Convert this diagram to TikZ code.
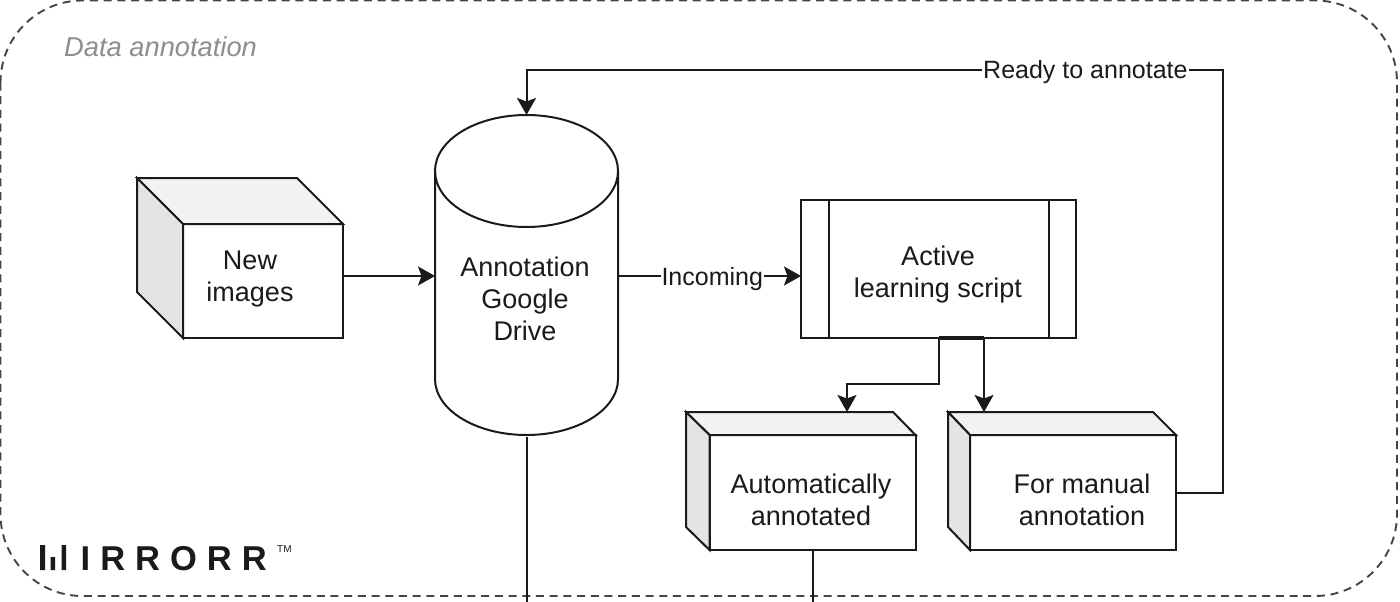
\documentclass[tikz,border=0pt]{standalone}
\usepackage{fontspec}
\setmainfont{Liberation Sans}
\usetikzlibrary{arrows.meta}
\definecolor{ink}{HTML}{1A1A1A}
\definecolor{sideface}{HTML}{E4E4E4}
\definecolor{topface}{HTML}{F1F3F3}
\definecolor{framegray}{HTML}{444444}
\definecolor{labelgray}{HTML}{8E8E8E}
\newfontfamily\logofont[LetterSpace=29]{Liberation Sans Bold}
\tikzset{
  x=1pt,y=-1pt,
  line/.style={draw=ink,line width=2pt,line join=miter},
  flow/.style={line,-{Stealth[length=17pt,width=19pt,inset=3.5pt]}},
  boxtext/.style={font=\fontsize{27}{32}\selectfont,text=ink,align=center,inner sep=0pt,outer sep=0pt},
  frontface/.style={line,fill=white,boxtext},
  edgelabel/.style={font=\fontsize{25}{30}\selectfont,text=ink,fill=white,inner sep=1pt},
}
\begin{document}
\begin{tikzpicture}
\useasboundingbox (0,0) rectangle (1400,602);
\fill[white] (0,0) rectangle (1400,602);
% frame
\draw[framegray,line width=1.9pt,dash pattern=on 8pt off 5.7pt,rounded corners=82pt]
  (0.5,0.5) rectangle (1397,596);
\node[font=\itshape\fontsize{27.3}{32}\selectfont,text=labelgray,anchor=base west,inner sep=0pt] (title) at (64,56.5) {Data annotation};

% new images
\node[frontface,minimum width=160pt,minimum height=114pt] (new) at (263,281) {};
\filldraw[line,fill=topface] (new.north west) -- (137,178) -- (297,178) -- (new.north east) -- cycle;
\filldraw[line,fill=sideface] (new.north west) -- (137,178) -- (137,292) -- (new.south west) -- cycle;
\node[boxtext] (newt) at (250,279) {New\\images};

% drive
\node[minimum width=183pt,minimum height=322pt,inner sep=0pt,outer sep=0pt] (drive) at (526.5,276) {};
\filldraw[line,fill=white] (435,171) -- (435,379) .. controls (435,410) and (476,435) .. (526.5,435)
  .. controls (577,435) and (618,410) .. (618,379) -- (618,171);
\draw[line] (435,171) .. controls (435,140) and (476,115) .. (526.5,115)
  .. controls (577,115) and (618,140) .. (618,171)
  .. controls (618,202) and (577,227) .. (526.5,227)
  .. controls (476,227) and (435,202) .. (435,171) -- cycle;
\node[boxtext] (drivet) at (525,299) {Annotation\\Google\\Drive};

% active script
\node[frontface,minimum width=275pt,minimum height=138pt] (active) at (938.5,269) {};
\draw[line] (829,200) -- (829,338) (1049,200) -- (1049,338);
\node[boxtext] (activet) at (938,275) {Active\\learning script};

% automatically annotated
\node[frontface,minimum width=206pt,minimum height=115pt] (auto) at (812.5,492.5) {};
\filldraw[line,fill=topface] (auto.north west) -- (686,412) -- (893,412) -- (auto.north east) -- cycle;
\filldraw[line,fill=sideface] (auto.north west) -- (686,412) -- (686,527) -- (auto.south west) -- cycle;
\node[boxtext] (autot) at (811,500) {Automatically\\annotated};

% manual
\node[frontface,minimum width=206pt,minimum height=115pt] (manual) at (1073,492.5) {};
\filldraw[line,fill=topface] (manual.north west) -- (948,412) -- (1153,412) -- (manual.north east) -- cycle;
\filldraw[line,fill=sideface] (manual.north west) -- (948,412) -- (948,527) -- (manual.south west) -- cycle;
\node[boxtext] (manualt) at (1082,500) {For manual\\annotation};

% connectors
\coordinate (driveout) at (526.5,602);
\coordinate (autoout) at (812.5,602);
\coordinate (autoin) at (847,412);
\coordinate (manualin) at (984,412);
\coordinate (branch) at (984,338);
\draw[flow] (new.east |- drive.west) -- (drive.west);
\draw[flow] (drive.east) -- node[edgelabel,pos=0.515,yshift=-3pt] (incoming) {Incoming} (active.west |- drive.east);
\draw[flow] (active.south) -- (938.5,384) -- (847,384) -- (autoin);
\draw[line,line width=3.6pt] (active.south) -- (branch);
\draw[flow] (branch) -- (manualin);
\draw[flow] (manual.east) -- (1222.5,492.5) -- (1222.5,70) -- node[edgelabel,pos=0.197,yshift=-2pt] (ready) {Ready to annotate} (526.5,70) -- (drive.north);
\draw[line] (drive.south) -- (driveout);
\draw[line] (auto.south) -- (autoout);

% logo
\fill[ink] (40,545) rectangle (45,570) (50.5,557) rectangle (55,570) (61.5,545) rectangle (66,570);
\node[font=\logofont\fontsize{34.5}{40}\selectfont,text=ink,anchor=base west,inner sep=0pt] (logo) at (80.5,570) {IRRORR};
\node[font=\fontsize{10}{12}\selectfont,text=ink,anchor=base west,inner sep=0pt] (tm) at (277,552.5) {TM};
\end{tikzpicture}
\end{document}
